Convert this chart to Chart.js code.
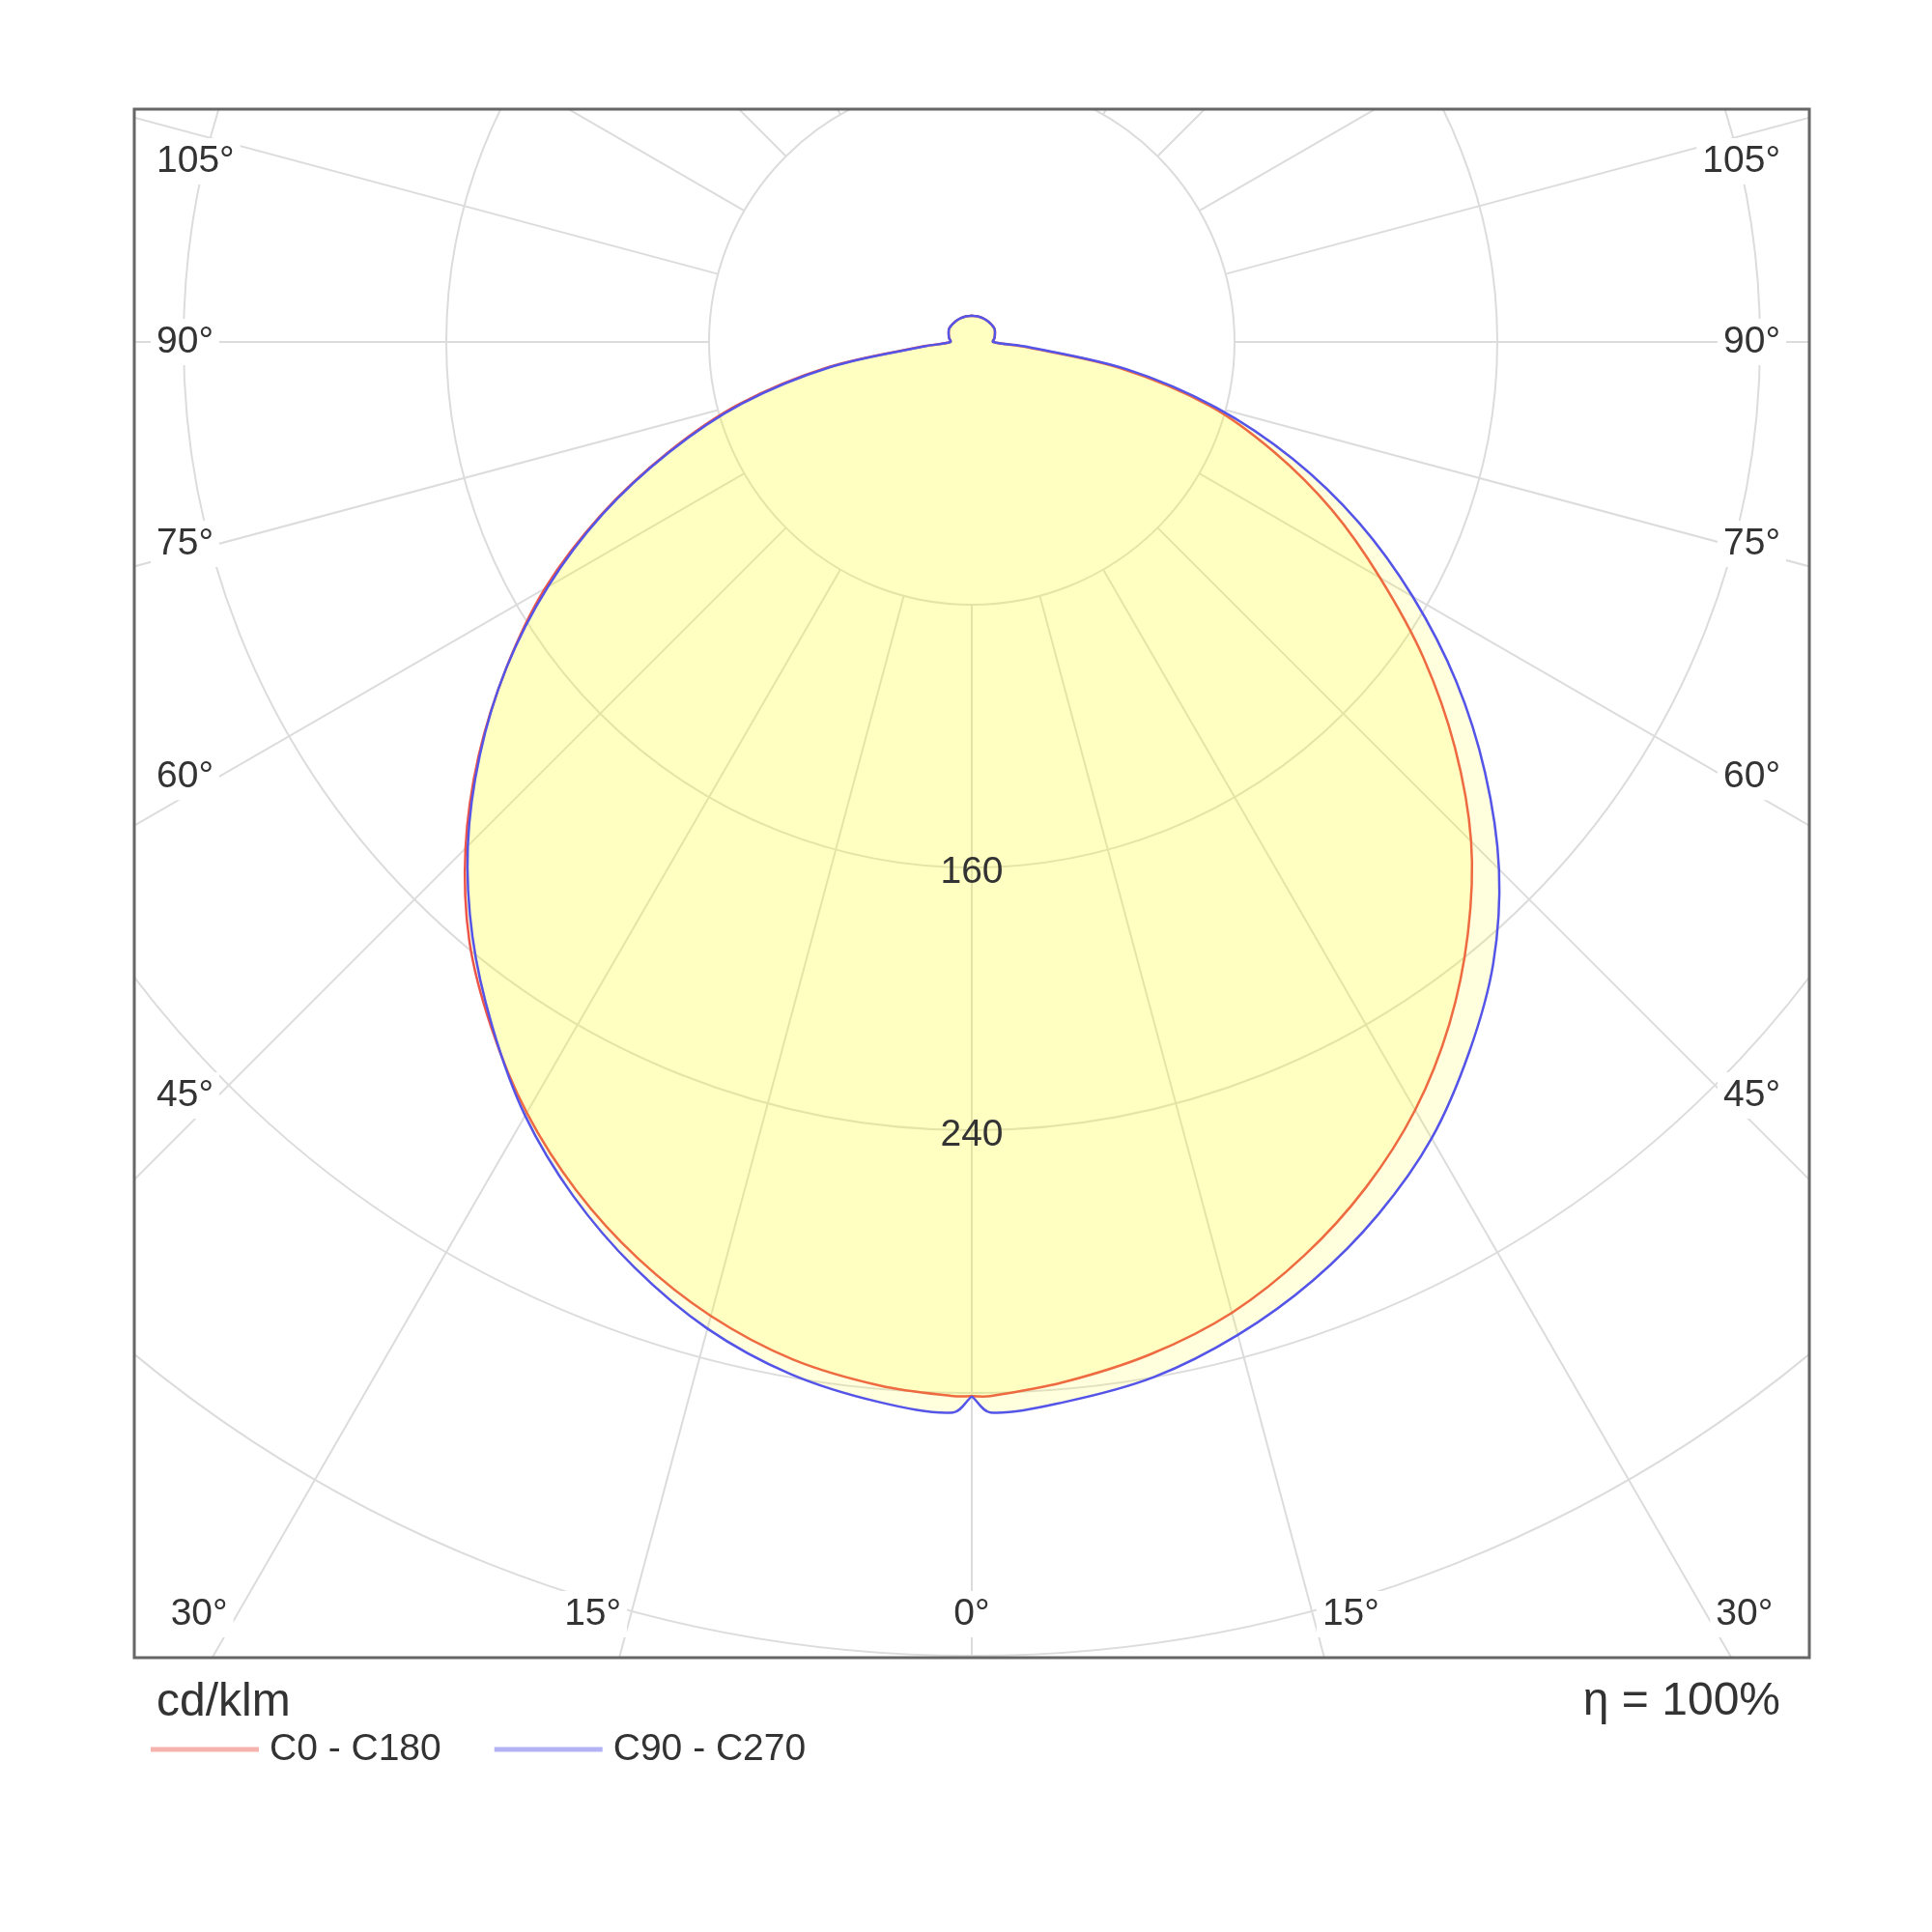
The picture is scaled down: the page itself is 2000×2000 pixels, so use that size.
<!DOCTYPE html>
<html>
<head>
<meta charset="utf-8">
<script src="https://cdn.jsdelivr.net/npm/chart.js@4.4.1/dist/chart.umd.min.js"></script>
<style>
  html, body { margin: 0; padding: 0; background: #fff; }
  canvas { display: block; }
</style>
</head>
<body>
<canvas id="polarChart" width="2000" height="2000"></canvas>
<script>
// gamma angles, degrees from nadir (0 = straight down)
const gammaAngles = [0, 1, 5, 10, 15, 20, 25, 30, 35, 40, 45, 50, 55, 60, 65, 70, 75, 80, 85, 90, 100, 110, 120, 130, 140, 150, 160, 170, 180];

// intensities in cd/klm for each half plane (C0 / C90 drawn on the right)
const c0Values   = [321, 321, 318, 313, 306, 296, 284, 270, 253.5, 235, 215, 192, 168, 143.5, 121, 98, 75, 46, 15.5, 6.5, 7, 7.5, 8, 8, 8, 8, 8, 8, 8];
const c180Values = [321, 321, 319, 314.5, 307, 297, 285, 271, 255, 238, 218, 196, 173, 150, 124.5, 98.5, 73.5, 44.5, 14.5, 6.5, 7, 7.5, 8, 8, 8, 8, 8, 8, 8];
const c90Values  = [321, 326, 324, 320, 313, 304, 293, 280, 264, 247, 227, 204, 180, 155, 130, 104, 77, 48, 17, 6.5, 7, 7.5, 8, 8, 8, 8, 8, 8, 8];
const c270Values = [321, 326, 324, 319, 311, 300, 287, 272, 254.5, 236.5, 217, 195.5, 173, 149, 124, 98, 72.5, 43.5, 14, 6.5, 7, 7.5, 8, 8, 8, 8, 8, 8, 8];

const ringValues = [80, 160, 240, 320, 400];
const ringLabels = [160, 240];
const angleStep = 15;
const seriesNames = ['C0 - C180', 'C90 - C270'];
const unitText = 'cd/klm';
const efficiencyText = 'η = 100%';

const FONT = '"Liberation Sans", Arial, sans-serif';

// right half goes 0 -> 180, left half comes back 180 -> 0, so the loop closes
function loop(rightVals, leftVals) {
  const pts = [];
  gammaAngles.forEach((g, i) => {
    const t = g * Math.PI / 180;
    pts.push({ x: rightVals[i] * Math.sin(t), y: -rightVals[i] * Math.cos(t) });
  });
  for (let i = gammaAngles.length - 1; i >= 0; i--) {
    const t = gammaAngles[i] * Math.PI / 180;
    pts.push({ x: -leftVals[i] * Math.sin(t), y: -leftVals[i] * Math.cos(t) });
  }
  return pts;
}

const polarGrid = {
  id: 'polarGrid',
  beforeDatasetsDraw(chart) {
    const { ctx, chartArea: a, scales: { x, y } } = chart;
    const cx = x.getPixelForValue(0), cy = y.getPixelForValue(0);
    const k = x.getPixelForValue(1) - cx;
    ctx.save();
    ctx.beginPath();
    ctx.rect(a.left, a.top, a.right - a.left, a.bottom - a.top);
    ctx.clip();
    ctx.strokeStyle = '#dcdcdc';
    ctx.lineWidth = 2;
    ringValues.forEach(v => {
      ctx.beginPath();
      ctx.arc(cx, cy, v * k, 0, Math.PI * 2);
      ctx.stroke();
    });
    for (let g = 0; g < 360; g += angleStep) {
      const t = g * Math.PI / 180;
      const dx = Math.sin(t), dy = Math.cos(t);
      ctx.beginPath();
      ctx.moveTo(cx + dx * ringValues[0] * k, cy + dy * ringValues[0] * k);
      ctx.lineTo(cx + dx * 4000, cy + dy * 4000);
      ctx.stroke();
    }
    ctx.restore();
  },
  afterDatasetsDraw(chart) {
    const { ctx, chartArea: a, scales: { x, y } } = chart;
    const cx = x.getPixelForValue(0), cy = y.getPixelForValue(0);
    const k = x.getPixelForValue(1) - cx;
    ctx.save();
    ctx.fillStyle = '#333';
    ctx.font = '39px ' + FONT;
    ctx.textBaseline = 'middle';
    ctx.textAlign = 'center';
    ringLabels.forEach(v => ctx.fillText(String(v), cx, cy + v * k + 5));

    // angle labels where the radial lines leave the frame (sides and bottom)
    const halfW = cx - a.left;
    const labelY = a.bottom - 45;
    for (let g = 0; g <= 180; g += angleStep) {
      [-1, 1].forEach(s => {
        if (g === 0 && s === 1) return;
        const t = g * Math.PI / 180;
        const sn = Math.sin(t), cs = Math.cos(t);
        const tSide = sn > 1e-9 ? halfW / sn : Infinity;
        const tBottom = cs > 1e-9 ? (a.bottom - cy) / cs : Infinity;
        const tTop = cs < -1e-9 ? (cy - a.top) / -cs : Infinity;
        const tMin = Math.min(tSide, tBottom, tTop);
        if (tMin === tTop) return;
        const txt = g + '°';
        let px, py, align;
        if (tMin === tSide) {
          py = Math.abs(cs) < 1e-9 ? cy : cy + (cs / sn) * (halfW - 87);
          py = Math.max(py, a.top + 54);
          px = s < 0 ? a.left + 23 : a.right - 30;
          align = s < 0 ? 'left' : 'right';
        } else {
          py = labelY;
          const anchor = cx + s * (sn / cs) * (labelY - cy);
          if (g === 0) { px = cx; align = 'center'; }
          else if (s < 0) { px = anchor - 10; align = 'right'; }
          else { px = anchor + 10; align = 'left'; }
        }
        const w = ctx.measureText(txt).width;
        let x0 = align === 'left' ? px : align === 'right' ? px - w : px - w / 2;
        ctx.fillStyle = '#fff';
        ctx.fillRect(x0 - 6, py - 24, w + 12, 48);
        ctx.fillStyle = '#333';
        ctx.textAlign = align;
        ctx.fillText(txt, px, py);
      });
    }

    // frame
    ctx.strokeStyle = '#666';
    ctx.lineWidth = 3;
    ctx.strokeRect(a.left, a.top, a.right - a.left, a.bottom - a.top);
    ctx.restore();
  },
  afterDraw(chart) {
    const { ctx, chartArea: a } = chart;
    ctx.save();
    ctx.fillStyle = '#333';
    ctx.textBaseline = 'middle';
    ctx.font = '48px ' + FONT;
    ctx.textAlign = 'left';
    ctx.fillText(unitText, a.left + 23, a.bottom + 47);
    ctx.textAlign = 'right';
    ctx.fillText(efficiencyText, a.right - 30, a.bottom + 46);

    ctx.font = '39px ' + FONT;
    ctx.textAlign = 'left';
    let lx = a.left + 17;
    const ly = a.bottom + 95;
    chart.data.datasets.forEach(ds => {
      ctx.save();
      ctx.globalAlpha = 0.45;
      ctx.strokeStyle = ds.borderColor;
      ctx.lineWidth = 5;
      ctx.beginPath();
      ctx.moveTo(lx, ly);
      ctx.lineTo(lx + 112, ly);
      ctx.stroke();
      ctx.restore();
      ctx.fillText(ds.label, lx + 123, ly);
      lx += 123 + ctx.measureText(ds.label).width + 55;
    });
    ctx.restore();
  }
};

new Chart(document.getElementById('polarChart'), {
  type: 'line',
  data: {
    datasets: [{
      label: seriesNames[0],
      data: loop(c0Values, c180Values),
      borderColor: 'rgb(236,84,74)',
      backgroundColor: 'rgba(255,255,0,0.13)',
      borderWidth: 2.5,
      fill: 'shape',
      order: 2
    }, {
      label: seriesNames[1],
      data: loop(c90Values, c270Values),
      borderColor: 'rgb(84,84,232)',
      backgroundColor: 'rgba(255,255,0,0.13)',
      borderWidth: 2.5,
      fill: 'shape',
      order: 1
    }]
  },
  options: {
    responsive: false,
    animation: false,
    devicePixelRatio: 1,
    layout: { padding: { left: 139, top: 113, right: 127, bottom: 284 } },
    plugins: { legend: { display: false }, tooltip: { enabled: false } },
    elements: { point: { radius: 0 }, line: { tension: 0.33, capBezierPoints: false } },
    scales: {
      x: { type: 'linear', min: -255, max: 255, display: false },
      y: { type: 'linear', min: -400.6, max: 70.9, display: false }
    }
  },
  plugins: [polarGrid]
});
</script>
</body>
</html>
